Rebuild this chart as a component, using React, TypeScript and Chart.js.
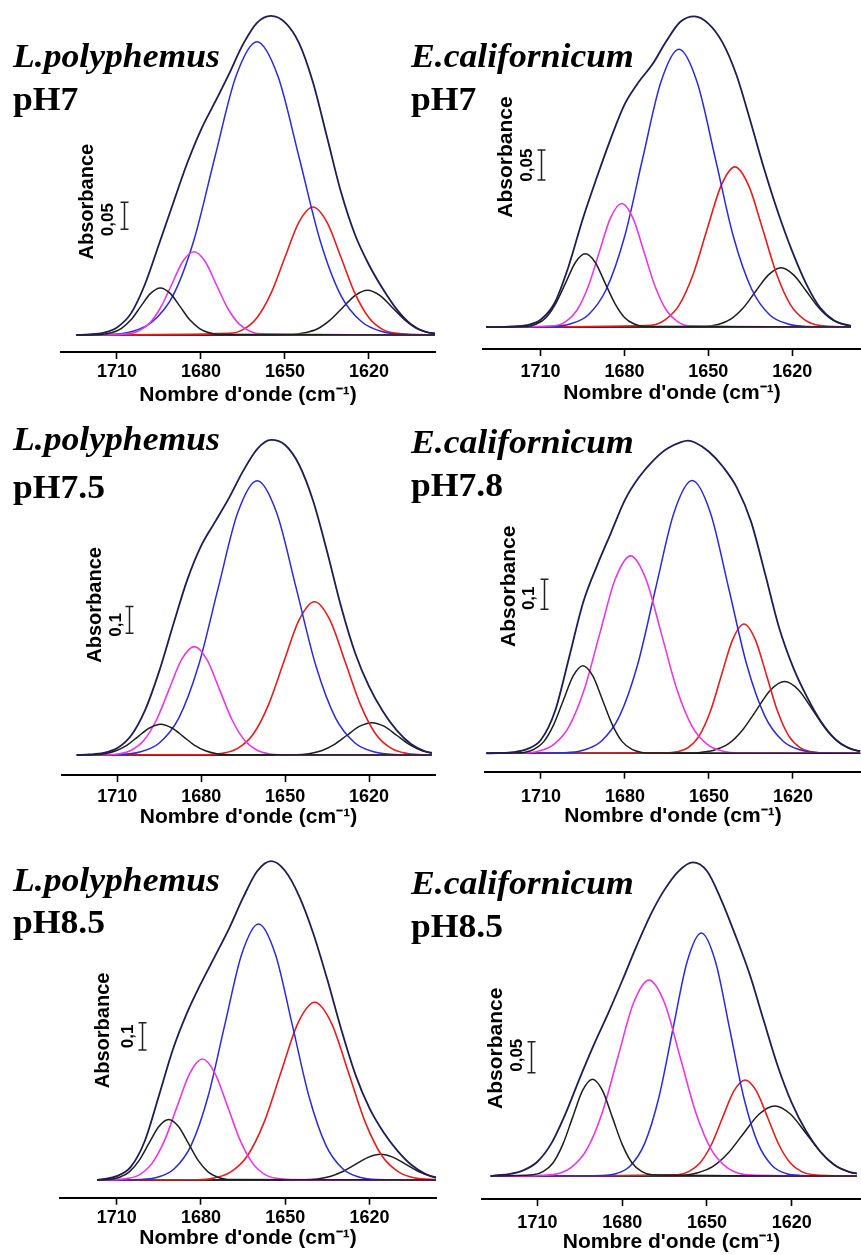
import React, { useEffect, useRef } from "react";
import { Chart, registerables } from "chart.js";

Chart.register(...registerables);

type Pt = [number, number];

// ---------- shared axis ticks (wavenumber, cm-1) ----------
const X_TICKS = [1710, 1680, 1650, 1620];

// ---------- Panel A : L.polyphemus pH7 ----------
const lp7_envelope: Pt[] = [[1724.5,0],[1720,0.001],[1715,0.004],[1710,0.014],[1705,0.040],[1700,0.094],[1695,0.168],[1690,0.243],[1685,0.317],[1680,0.380],[1675,0.431],[1670,0.483],[1665,0.538],[1660,0.578],[1655,0.591],[1650,0.579],[1645,0.541],[1640,0.468],[1635,0.367],[1630,0.265],[1625,0.186],[1620,0.130],[1615,0.085],[1610,0.047],[1605,0.020],[1600,0.006],[1595,0.002]];
const lp7_black1: Pt[] = [[1595,0],[1673.5,0.001],[1677,0.004],[1680.5,0.012],[1684,0.028],[1687.5,0.053],[1691,0.077],[1694.5,0.087],[1698,0.077],[1701.5,0.053],[1705,0.028],[1708.5,0.012],[1712,0.004],[1715.5,0.001],[1724.5,0]];
const lp7_magenta: Pt[] = [[1595,0],[1658.5,0.002],[1662.5,0.007],[1666.5,0.021],[1670.5,0.050],[1674.5,0.093],[1678.5,0.136],[1682.5,0.154],[1686.5,0.136],[1690.5,0.093],[1694.5,0.050],[1698.5,0.021],[1702.5,0.007],[1706.5,0.002],[1724.5,0]];
const lp7_blue: Pt[] = [[1595,0],[1607.5,0.001],[1615,0.006],[1622.5,0.024],[1630,0.073],[1637.5,0.176],[1645,0.330],[1652.5,0.479],[1660,0.543],[1667.5,0.479],[1675,0.330],[1682.5,0.176],[1690,0.073],[1697.5,0.024],[1705,0.006],[1712.5,0.001],[1724.5,0]];
const lp7_red: Pt[] = [[1595,0],[1610,0.003],[1615,0.010],[1620,0.032],[1625,0.077],[1630,0.144],[1635,0.209],[1640,0.237],[1645,0.209],[1650,0.144],[1655,0.077],[1660,0.032],[1665,0.010],[1670,0.003],[1724.5,0]];
const lp7_black2: Pt[] = [[1593.5,0.001],[1598,0.004],[1602.5,0.011],[1607,0.027],[1611.5,0.050],[1616,0.073],[1620.5,0.083],[1625,0.073],[1629.5,0.050],[1634,0.027],[1638.5,0.011],[1643,0.004],[1647.5,0.001],[1724.5,0]];
const lp7_baseline: Pt[] = [[1595,0],[1724.5,0]];
const lp7_scaleBar = [1707.5, 0.196, 0.246];

// ---------- Panel B : E.californicum pH7 ----------
const ec7_envelope: Pt[] = [[1729.5,0],[1725,0],[1720,0.001],[1715,0.003],[1710,0.012],[1705,0.040],[1700,0.101],[1695,0.179],[1690,0.248],[1685,0.313],[1680,0.371],[1675,0.408],[1670,0.438],[1665,0.477],[1660,0.509],[1655,0.518],[1650,0.506],[1645,0.475],[1640,0.421],[1635,0.344],[1630,0.263],[1625,0.190],[1620,0.126],[1615,0.072],[1610,0.032],[1605,0.011],[1600,0.003],[1599,0.002]];
const ec7_black1: Pt[] = [[1599,0],[1673,0.001],[1676.5,0.005],[1680,0.016],[1683.5,0.040],[1687,0.074],[1690.5,0.108],[1694,0.122],[1697.5,0.108],[1701,0.074],[1704.5,0.040],[1708,0.016],[1711.5,0.005],[1715,0.001],[1729.5,0]];
const ec7_magenta: Pt[] = [[1599,0],[1657,0.002],[1661,0.009],[1665,0.028],[1669,0.067],[1673,0.125],[1677,0.182],[1681,0.206],[1685,0.182],[1689,0.125],[1693,0.067],[1697,0.028],[1701,0.009],[1705,0.002],[1729.5,0]];
const ec7_blue: Pt[] = [[1599,0],[1615,0.001],[1621.5,0.005],[1628,0.020],[1634.5,0.063],[1641,0.150],[1647.5,0.281],[1654,0.408],[1660.5,0.463],[1667,0.408],[1673.5,0.281],[1680,0.150],[1686.5,0.063],[1693,0.020],[1699.5,0.005],[1706,0.001],[1729.5,0]];
const ec7_red: Pt[] = [[1599,0],[1610.5,0.003],[1615.5,0.012],[1620.5,0.036],[1625.5,0.087],[1630.5,0.162],[1635.5,0.235],[1640.5,0.267],[1645.5,0.235],[1650.5,0.162],[1655.5,0.087],[1660.5,0.036],[1665.5,0.012],[1670.5,0.003],[1729.5,0]];
const ec7_black2: Pt[] = [[1599,0.002],[1601.5,0.004],[1606,0.013],[1610.5,0.032],[1615,0.060],[1619.5,0.087],[1624,0.099],[1628.5,0.087],[1633,0.060],[1637.5,0.032],[1642,0.013],[1646.5,0.004],[1651,0.001],[1729.5,0]];
const ec7_baseline: Pt[] = [[1599,0],[1729.5,0]];
const ec7_scaleBar = [1710, 0.245, 0.295];

// ---------- Panel C : L.polyphemus pH7.5 ----------
const lp75_envelope: Pt[] = [[1724.5,0],[1720,0.002],[1715,0.008],[1710,0.026],[1705,0.074],[1700,0.170],[1695,0.315],[1690,0.489],[1685,0.656],[1680,0.784],[1675,0.874],[1670,0.964],[1665,1.064],[1660,1.146],[1655,1.180],[1650,1.161],[1645,1.087],[1640,0.952],[1635,0.762],[1630,0.556],[1625,0.383],[1620,0.257],[1615,0.163],[1610,0.091],[1605,0.041],[1600,0.014],[1597.5,0.008]];
const lp75_black1: Pt[] = [[1597.5,0],[1670.5,0.001],[1674.5,0.005],[1678.5,0.016],[1682.5,0.037],[1686.5,0.070],[1690.5,0.101],[1694.5,0.115],[1698.5,0.101],[1702.5,0.070],[1706.5,0.037],[1710.5,0.016],[1714.5,0.005],[1718.5,0.001],[1724.5,0]];
const lp75_magenta: Pt[] = [[1597.5,0],[1651,0.001],[1655.5,0.004],[1660,0.018],[1664.5,0.055],[1669,0.132],[1673.5,0.246],[1678,0.358],[1682.5,0.406],[1687,0.358],[1691.5,0.246],[1696,0.132],[1700.5,0.055],[1705,0.018],[1709.5,0.004],[1714,0.001],[1724.5,0]];
const lp75_blue: Pt[] = [[1597.5,0],[1611,0.002],[1618,0.011],[1625,0.045],[1632,0.139],[1639,0.334],[1646,0.623],[1653,0.906],[1660,1.027],[1667,0.906],[1674,0.623],[1681,0.334],[1688,0.139],[1695,0.045],[1702,0.011],[1709,0.002],[1724.5,0]];
const lp75_red: Pt[] = [[1597.5,0],[1601,0.001],[1606.5,0.006],[1612,0.025],[1617.5,0.077],[1623,0.187],[1628.5,0.348],[1634,0.506],[1639.5,0.574],[1645,0.506],[1650.5,0.348],[1656,0.187],[1661.5,0.077],[1667,0.025],[1672.5,0.006],[1678,0.001],[1724.5,0]];
const lp75_black2: Pt[] = [[1597.5,0.007],[1601,0.016],[1605.5,0.039],[1610,0.073],[1614.5,0.107],[1619,0.121],[1623.5,0.107],[1628,0.073],[1632.5,0.039],[1637,0.016],[1641.5,0.005],[1646,0.001],[1724.5,0]];
const lp75_baseline: Pt[] = [[1597.5,0],[1724.5,0]];
const lp75_scaleBar = [1705.9, 0.456, 0.556];

// ---------- Panel D : E.californicum pH7.8 ----------
const ec78_envelope: Pt[] = [[1729.5,0],[1725,0.001],[1720,0.004],[1715,0.014],[1710,0.045],[1705,0.140],[1700,0.318],[1695,0.501],[1690,0.625],[1685,0.735],[1680,0.845],[1675,0.920],[1670,0.975],[1665,1.015],[1660,1.037],[1657.5,1.042],[1655,1.036],[1650,1.005],[1645,0.955],[1640,0.885],[1635,0.773],[1630,0.600],[1625,0.420],[1620,0.288],[1615,0.188],[1610,0.106],[1605,0.048],[1600,0.017],[1596,0.007]];
const ec78_black1: Pt[] = [[1596,0],[1670.5,0.001],[1674,0.003],[1677.5,0.013],[1681,0.039],[1684.5,0.095],[1688,0.177],[1691.5,0.258],[1695,0.292],[1698.5,0.258],[1702,0.177],[1705.5,0.095],[1709,0.039],[1712.5,0.013],[1716,0.003],[1719.5,0.001],[1729.5,0]];
const ec78_magenta: Pt[] = [[1596,0],[1639.5,0.001],[1645,0.007],[1650.5,0.029],[1656,0.089],[1661.5,0.214],[1667,0.399],[1672.5,0.580],[1678,0.658],[1683.5,0.580],[1689,0.399],[1694.5,0.214],[1700,0.089],[1705.5,0.029],[1711,0.007],[1716.5,0.001],[1729.5,0]];
const ec78_blue: Pt[] = [[1596,0],[1610.5,0.002],[1617,0.010],[1623.5,0.040],[1630,0.123],[1636.5,0.295],[1643,0.552],[1649.5,0.802],[1656,0.909],[1662.5,0.802],[1669,0.552],[1675.5,0.295],[1682,0.123],[1688.5,0.040],[1695,0.010],[1701.5,0.002],[1729.5,0]];
const ec78_red: Pt[] = [[1596,0],[1609.5,0.001],[1613.5,0.005],[1617.5,0.019],[1621.5,0.058],[1625.5,0.140],[1629.5,0.262],[1633.5,0.380],[1637.5,0.431],[1641.5,0.380],[1645.5,0.262],[1649.5,0.140],[1653.5,0.058],[1657.5,0.019],[1661.5,0.005],[1665.5,0.001],[1729.5,0]];
const ec78_black2: Pt[] = [[1596,0.006],[1598,0.011],[1603,0.032],[1608,0.078],[1613,0.145],[1618,0.211],[1623,0.239],[1628,0.211],[1633,0.145],[1638,0.078],[1643,0.032],[1648,0.011],[1653,0.003],[1658,0.001],[1729.5,0]];
const ec78_baseline: Pt[] = [[1596,0],[1729.5,0]];
const ec78_scaleBar = [1708.9, 0.48, 0.58];

// ---------- Panel E : L.polyphemus pH8.5 ----------
const lp85_envelope: Pt[] = [[1717,0],[1715,0.003],[1710,0.014],[1705,0.048],[1700,0.143],[1695,0.308],[1690,0.478],[1685,0.611],[1680,0.720],[1675,0.820],[1670,0.921],[1665,1.034],[1660,1.131],[1655,1.168],[1650,1.132],[1645,1.039],[1640,0.903],[1635,0.734],[1630,0.550],[1625,0.386],[1620,0.263],[1615,0.175],[1610,0.107],[1605,0.055],[1600,0.022],[1596,0.009]];
const lp85_black1: Pt[] = [[1596,0],[1670.5,0.002],[1674,0.010],[1677.5,0.030],[1681,0.072],[1684.5,0.135],[1688,0.196],[1691.5,0.222],[1695,0.196],[1698.5,0.135],[1702,0.072],[1705.5,0.030],[1709,0.010],[1712.5,0.002],[1717,0]];
const lp85_magenta: Pt[] = [[1596,0],[1648,0.001],[1652.5,0.005],[1657,0.019],[1661.5,0.060],[1666,0.144],[1670.5,0.269],[1675,0.391],[1679.5,0.443],[1684,0.391],[1688.5,0.269],[1693,0.144],[1697.5,0.060],[1702,0.019],[1706.5,0.005],[1711,0.001],[1717,0]];
const lp85_blue: Pt[] = [[1596,0],[1617.5,0.002],[1623.5,0.010],[1629.5,0.041],[1635.5,0.127],[1641.5,0.305],[1647.5,0.569],[1653.5,0.827],[1659.5,0.938],[1665.5,0.827],[1671.5,0.569],[1677.5,0.305],[1683.5,0.127],[1689.5,0.041],[1695.5,0.010],[1701.5,0.002],[1717,0]];
const lp85_red: Pt[] = [[1596,0.001],[1603.5,0.007],[1609.5,0.029],[1615.5,0.088],[1621.5,0.212],[1627.5,0.395],[1633.5,0.574],[1639.5,0.651],[1645.5,0.574],[1651.5,0.395],[1657.5,0.212],[1663.5,0.088],[1669.5,0.029],[1675.5,0.007],[1681.5,0.001],[1717,0]];
const lp85_black2: Pt[] = [[1596,0.008],[1598,0.013],[1602.5,0.031],[1607,0.057],[1611.5,0.083],[1616,0.094],[1620.5,0.083],[1625,0.057],[1629.5,0.031],[1634,0.013],[1638.5,0.004],[1643,0.001],[1717,0]];
const lp85_baseline: Pt[] = [[1596,0],[1717,0]];
const lp85_scaleBar = [1700.9, 0.476, 0.576];

// ---------- Panel F : E.californicum pH8.5 ----------
const ec85_envelope: Pt[] = [[1726.5,0],[1725,0.001],[1720,0.003],[1715,0.009],[1710,0.023],[1705,0.053],[1700,0.101],[1695,0.158],[1690,0.212],[1685,0.262],[1680,0.315],[1675,0.370],[1670,0.421],[1665,0.462],[1660,0.492],[1655,0.506],[1650,0.492],[1645,0.446],[1640,0.389],[1635,0.327],[1630,0.252],[1625,0.178],[1620,0.118],[1615,0.073],[1610,0.040],[1605,0.018],[1600,0.007],[1597,0.004]];
const ec85_black1: Pt[] = [[1597,0],[1669.5,0.002],[1673,0.007],[1676.5,0.021],[1680,0.051],[1683.5,0.095],[1687,0.138],[1690.5,0.156],[1694,0.138],[1697.5,0.095],[1701,0.051],[1704.5,0.021],[1708,0.007],[1711.5,0.002],[1726.5,0]];
const ec85_magenta: Pt[] = [[1597,0],[1632,0.001],[1637.5,0.003],[1643,0.014],[1648.5,0.043],[1654,0.103],[1659.5,0.192],[1665,0.279],[1670.5,0.316],[1676,0.279],[1681.5,0.192],[1687,0.103],[1692.5,0.043],[1698,0.014],[1703.5,0.003],[1709,0.001],[1726.5,0]];
const ec85_blue: Pt[] = [[1597,0],[1617,0.001],[1622,0.004],[1627,0.017],[1632,0.053],[1637,0.127],[1642,0.238],[1647,0.346],[1652,0.392],[1657,0.346],[1662,0.238],[1667,0.127],[1672,0.053],[1677,0.017],[1682,0.004],[1687,0.001],[1726.5,0]];
const ec85_red: Pt[] = [[1597,0],[1612.5,0.002],[1616.5,0.007],[1620.5,0.021],[1624.5,0.050],[1628.5,0.094],[1632.5,0.137],[1636.5,0.155],[1640.5,0.137],[1644.5,0.094],[1648.5,0.050],[1652.5,0.021],[1656.5,0.007],[1660.5,0.002],[1726.5,0]];
const ec85_black2: Pt[] = [[1597,0.004],[1598.5,0.005],[1604,0.015],[1609.5,0.037],[1615,0.069],[1620.5,0.100],[1626,0.113],[1631.5,0.100],[1637,0.069],[1642.5,0.037],[1648,0.015],[1653.5,0.005],[1659,0.001],[1726.5,0]];
const ec85_baseline: Pt[] = [[1597,0],[1726.5,0]];
const ec85_scaleBar = [1712.3, 0.1666, 0.2166];

// ---------- styles ----------
const COLORS = {
  envelope: "#1f1d52",
  black: "#1e1e1e",
  magenta: "#e43ae4",
  blue: "#2b2bd6",
  red: "#e11f1f",
  base: "#000000",
};
const SANS = '"Liberation Sans", Arial, Helvetica, sans-serif';
const SERIF = '"Liberation Serif", "Times New Roman", serif';
const AXIS_TITLE = "Nombre d'onde (cm\u207B\u00B9)";

interface Series { env: Pt[]; black1: Pt[]; magenta: Pt[]; blue: Pt[]; red: Pt[]; black2: Pt[]; base: Pt[]; }
interface PanelCfg {
  species: string; ph: string; barLabel: string; bar: number[]; series: Series;
  left: number; top: number; w: number; h: number;
  padL: number; padR: number; padT: number; axisH: number;
  xMin: number; xMax: number; yMin: number; yMax: number;
  tickPad: number; titlePadB: number;
  titleX: number; speciesY: number; phY: number;
  numDx: number; numDy: number; absDx: number; absDy: number; absSize: number;
}

const PANELS: PanelCfg[] = [
  {
    species: "L.polyphemus", ph: "pH7", barLabel: "0,05", bar: lp7_scaleBar,
    series: { env: lp7_envelope, black1: lp7_black1, magenta: lp7_magenta, blue: lp7_blue, red: lp7_red, black2: lp7_black2, base: lp7_baseline },
    left: 0, top: 0, w: 440, h: 410, padL: 61, padR: 5, padT: 5, axisH: 58,
    xMin: 1596.4, xMax: 1730, yMin: -0.0315, yMax: 0.611, tickPad: 2.2, titlePadB: 2.4,
    titleX: 13, speciesY: 67, phY: 110, numDx: -16, numDy: 4, absDx: -37, absDy: -14, absSize: 20,
  },
  {
    species: "E.californicum", ph: "pH7", barLabel: "0,05", bar: ec7_scaleBar,
    series: { env: ec7_envelope, black1: ec7_black1, magenta: ec7_magenta, blue: ec7_blue, red: ec7_red, black2: ec7_black2, base: ec7_baseline },
    left: 400, top: 0, w: 461, h: 410, padL: 83, padR: 0, padT: 5, axisH: 61,
    xMin: 1595.4, xMax: 1730.6, yMin: -0.0367, yMax: 0.537, tickPad: 5.2, titlePadB: 4.4,
    titleX: 11, speciesY: 67, phY: 110, numDx: -14, numDy: 0, absDx: -35, absDy: -8, absSize: 21,
  },
  {
    species: "L.polyphemus", ph: "pH7.5", barLabel: "0,1", bar: lp75_scaleBar,
    series: { env: lp75_envelope, black1: lp75_black1, magenta: lp75_magenta, blue: lp75_blue, red: lp75_red, black2: lp75_black2, base: lp75_baseline },
    left: 0, top: 415, w: 440, h: 420, padL: 62, padR: 5, padT: 5, axisH: 60,
    xMin: 1596.4, xMax: 1729.8, yMin: -0.0749, yMax: 1.2547, tickPad: 4.2, titlePadB: 5.4,
    titleX: 13, speciesY: 35, phY: 83, numDx: -13, numDy: 5, absDx: -34, absDy: -15, absSize: 20,
  },
  {
    species: "E.californicum", ph: "pH7.8", barLabel: "0,1", bar: ec78_scaleBar,
    series: { env: ec78_envelope, black1: ec78_black1, magenta: ec78_magenta, blue: ec78_blue, red: ec78_red, black2: ec78_black2, base: ec78_baseline },
    left: 400, top: 415, w: 461, h: 420, padL: 85, padR: 0, padT: 5, axisH: 63.3,
    xMin: 1595.7, xMax: 1730, yMin: -0.0613, yMax: 1.111, tickPad: 7.2, titlePadB: 5.7,
    titleX: 11, speciesY: 38, phY: 81, numDx: -15, numDy: 4, absDx: -35, absDy: -8, absSize: 21,
  },
  {
    species: "L.polyphemus", ph: "pH8.5", barLabel: "0,1", bar: lp85_scaleBar,
    series: { env: lp85_envelope, black1: lp85_black1, magenta: lp85_magenta, blue: lp85_blue, red: lp85_red, black2: lp85_black2, base: lp85_baseline },
    left: 0, top: 835, w: 440, h: 420, padL: 60, padR: 4, padT: 10, axisH: 57.3,
    xMin: 1596.3, xMax: 1730.2, yMin: -0.0648, yMax: 1.227, tickPad: 2.5, titlePadB: 4.1,
    titleX: 13, speciesY: 56, phY: 98, numDx: -14, numDy: 0, absDx: -39, absDy: -6, absSize: 20,
  },
  {
    species: "E.californicum", ph: "pH8.5", barLabel: "0,05", bar: ec85_scaleBar,
    series: { env: ec85_envelope, black1: ec85_black1, magenta: ec85_magenta, blue: ec85_blue, red: ec85_red, black2: ec85_black2, base: ec85_baseline },
    left: 400, top: 835, w: 461, h: 420, padL: 82, padR: 0, padT: 10, axisH: 56,
    xMin: 1595.5, xMax: 1729.6, yMin: -0.0371, yMax: 0.534, tickPad: 6.2, titlePadB: 0,
    titleX: 11, speciesY: 59, phY: 102, numDx: -14, numDy: -2, absDx: -35, absDy: -9, absSize: 21,
  },
];

function Panel({ p }: { p: PanelCfg }) {
  const ref = useRef<HTMLCanvasElement | null>(null);

  useEffect(() => {
    if (!ref.current) return;
    const toXY = (arr: Pt[]) =>
      arr.slice().sort((a, b) => b[0] - a[0]).map(([x, y]) => ({ x, y }));
    const ds = (arr: Pt[], color: string, width: number) => ({
      data: toXY(arr),
      borderColor: color,
      backgroundColor: color,
      borderWidth: width,
      pointRadius: 0,
      pointHoverRadius: 0,
      fill: false,
      tension: 0,
      cubicInterpolationMode: "monotone" as const,
    });

    const overlay = {
      id: "overlay",
      afterDraw(chart: any) {
        const ctx: CanvasRenderingContext2D = chart.ctx;
        const xs = chart.scales.x;
        const ys = chart.scales.y;
        const bx = Math.round(xs.getPixelForValue(p.bar[0])) + 0.5;
        const by0 = ys.getPixelForValue(p.bar[1]);
        const by1 = ys.getPixelForValue(p.bar[2]);
        ctx.save();
        ctx.strokeStyle = "#222";
        ctx.lineWidth = 1.5;
        ctx.beginPath();
        ctx.moveTo(bx, by0);
        ctx.lineTo(bx, by1);
        ctx.moveTo(bx - 4, by0);
        ctx.lineTo(bx + 4, by0);
        ctx.moveTo(bx - 4, by1);
        ctx.lineTo(bx + 4, by1);
        ctx.stroke();
        const cy = (by0 + by1) / 2;
        ctx.fillStyle = "#000";
        const rot = (text: string, x: number, y: number, font: string) => {
          ctx.save();
          ctx.translate(x, y);
          ctx.rotate(-Math.PI / 2);
          ctx.font = font;
          ctx.textAlign = "center";
          ctx.textBaseline = "middle";
          ctx.fillText(text, 0, 0);
          ctx.restore();
        };
        rot(p.barLabel, bx + p.numDx, cy + p.numDy, `bold 17px ${SANS}`);
        rot("Absorbance", bx + p.absDx, cy + p.absDy, `bold ${p.absSize}px ${SANS}`);
        const title = (text: string, x: number, y: number, font: string) => {
          ctx.save();
          ctx.translate(x, y);
          ctx.scale(1.08, 1);
          ctx.font = font;
          ctx.textAlign = "left";
          ctx.textBaseline = "alphabetic";
          ctx.fillText(text, 0, 0);
          ctx.restore();
        };
        title(p.species, p.titleX, p.speciesY, `italic bold 33px ${SERIF}`);
        title(p.ph, p.titleX, p.phY, `bold 33px ${SERIF}`);
        ctx.restore();
      },
    };

    const s = p.series;
    const chart = new Chart(ref.current, {
      type: "line",
      data: {
        datasets: [
          ds(s.env, COLORS.envelope, 1.8),
          ds(s.black1, COLORS.black, 1.5),
          ds(s.magenta, COLORS.magenta, 1.6),
          ds(s.blue, COLORS.blue, 1.5),
          ds(s.red, COLORS.red, 1.6),
          ds(s.black2, COLORS.black, 1.5),
          ds(s.base, COLORS.base, 1.3),
        ] as any,
      },
      options: {
        animation: false,
        responsive: false,
        devicePixelRatio: 1,
        events: [],
        layout: { padding: { left: p.padL, right: p.padR, top: p.padT, bottom: 0 } },
        plugins: {
          legend: { display: false },
          tooltip: { enabled: false },
          title: { display: false },
        },
        scales: {
          x: {
            type: "linear",
            reverse: true,
            min: p.xMin,
            max: p.xMax,
            afterBuildTicks: (scale: any) => {
              scale.ticks = X_TICKS.map((v) => ({ value: v }));
            },
            afterFit: (scale: any) => {
              scale.height = p.axisH;
            },
            ticks: {
              autoSkip: false,
              maxRotation: 0,
              padding: p.tickPad,
              color: "#000",
              font: { family: SANS, size: 18, weight: "bold" },
              callback: (v: any) => String(v),
            },
            grid: {
              display: true,
              drawOnChartArea: false,
              drawTicks: true,
              tickLength: 7,
              tickWidth: 1.6,
              tickColor: "#000",
              color: "#000",
            },
            border: { display: true, color: "#000", width: 2 },
            title: {
              display: true,
              text: AXIS_TITLE,
              color: "#000",
              font: { family: SANS, size: 21, weight: "bold" },
              padding: { top: 0, bottom: p.titlePadB },
            },
          },
          y: { type: "linear", display: false, min: p.yMin, max: p.yMax },
        },
      } as any,
      plugins: [overlay],
    });
    return () => chart.destroy();
  }, [p]);

  return (
    <canvas
      ref={ref}
      width={p.w}
      height={p.h}
      style={{ position: "absolute", left: p.left, top: p.top, width: p.w, height: p.h }}
    />
  );
}

export default function App() {
  return (
    <div
      style={{
        position: "absolute",
        left: 0,
        top: 0,
        width: 861,
        height: 1255,
        background: "#ffffff",
        overflow: "hidden",
      }}
    >
      {PANELS.map((p, i) => (
        <Panel key={i} p={p} />
      ))}
    </div>
  );
}
